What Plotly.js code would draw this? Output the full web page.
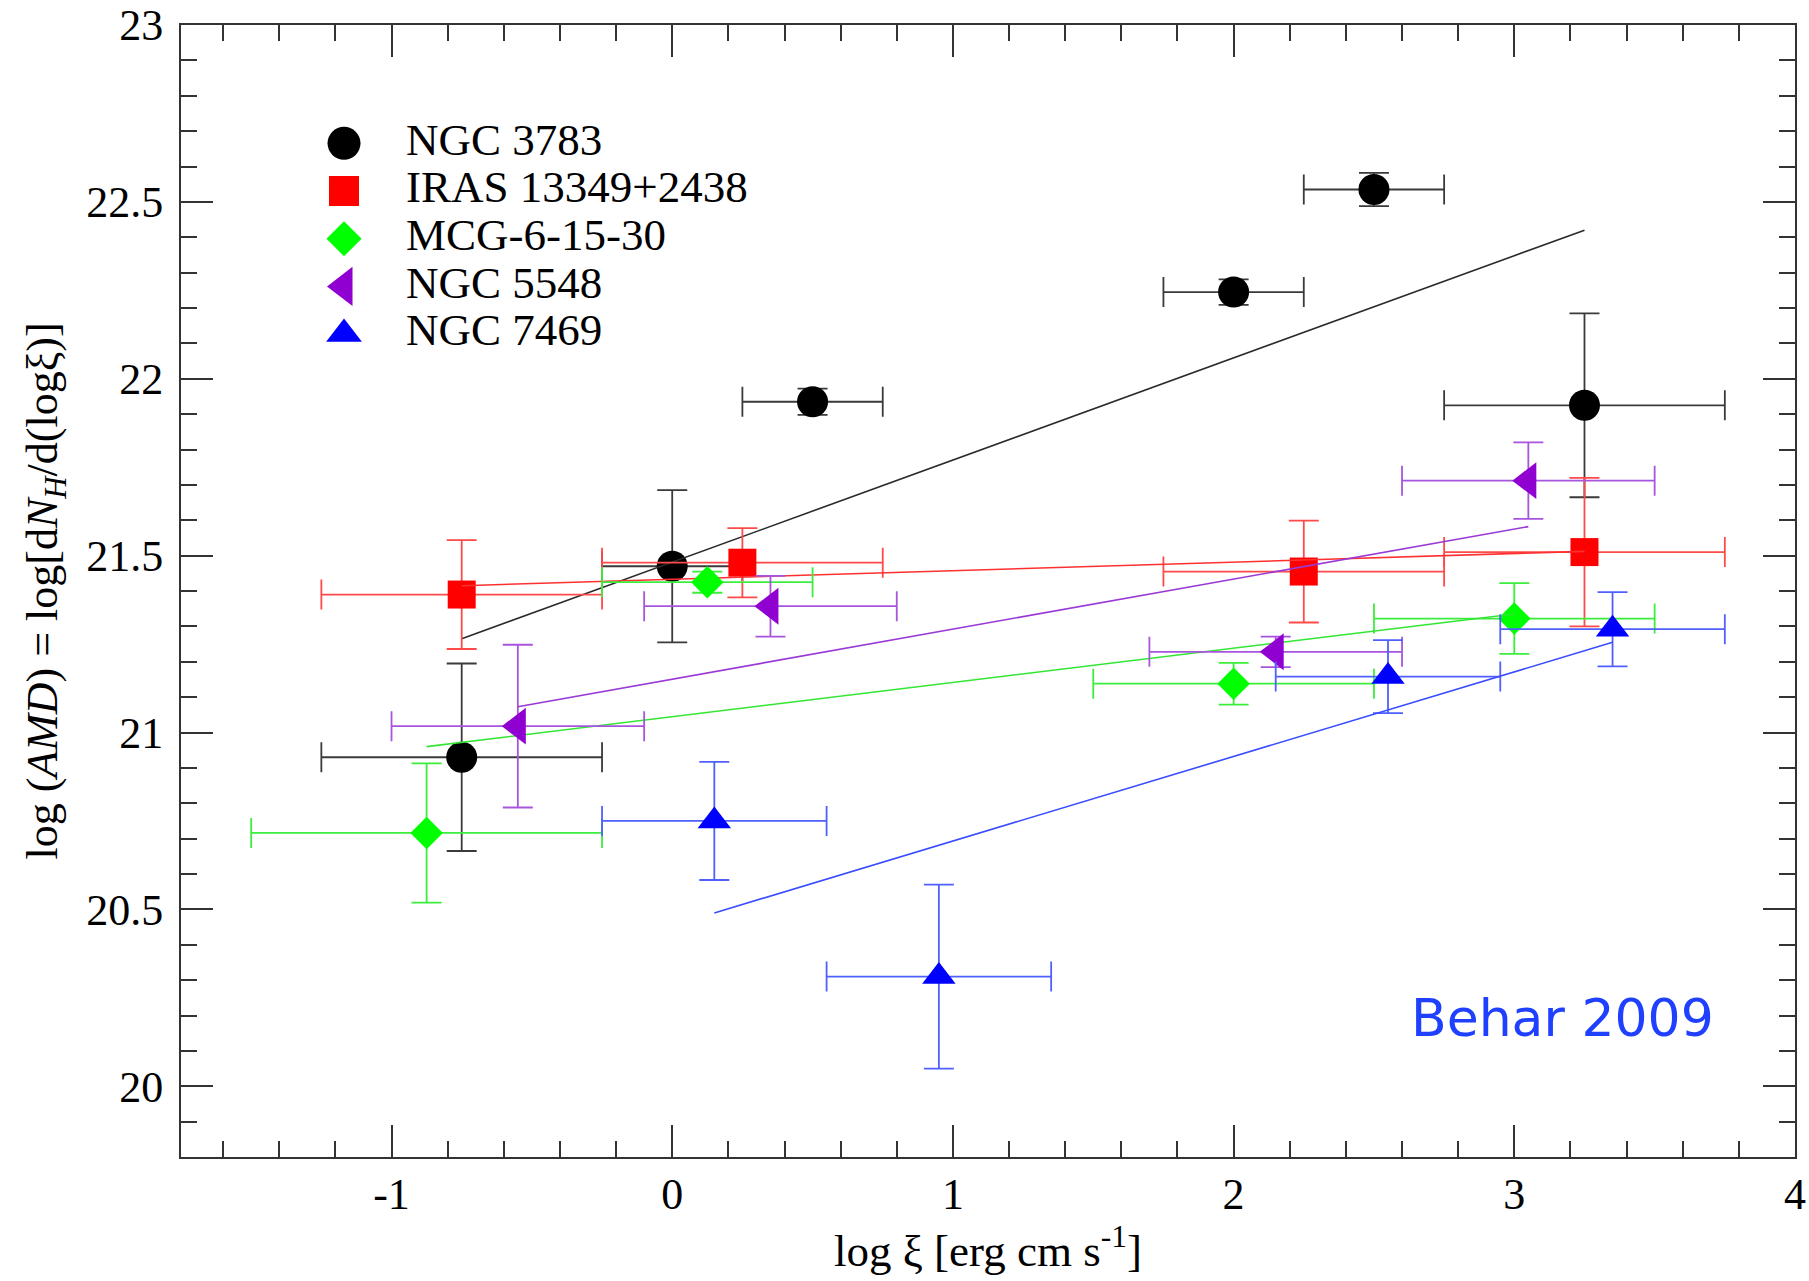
<!DOCTYPE html>
<html><head><meta charset="utf-8">
<script src="https://cdn.plot.ly/plotly-3.0.1.min.js"></script>
<style>html,body{margin:0;padding:0;background:#fff;} #chart{width:1809px;height:1281px;}</style>
</head><body><div id="chart"></div>
<script>
// ---- data ----
const seriesNames = ['NGC 3783', 'IRAS 13349+2438', 'MCG-6-15-30', 'NGC 5548', 'NGC 7469'];

const ngc3783X    = [-0.75, 0, 0.5, 2.0, 2.5, 3.25];
const ngc3783Y    = [20.93, 21.47, 21.935, 22.245, 22.535, 21.925];
const ngc3783XErr = [0.5, 0.25, 0.25, 0.25, 0.25, 0.5];
const ngc3783YErr = [0.265, 0.215, 0.037, 0.036, 0.047, 0.26];
const ngc3783FitX = [-0.75, 3.25];
const ngc3783FitY = [21.265, 22.42];

const irasX    = [-0.75, 0.25, 2.25, 3.25];
const irasY    = [21.39, 21.48, 21.455, 21.51];
const irasXErr = [0.5, 0.5, 0.5, 0.5];
const irasYErr = [0.154, 0.098, 0.144, 0.21];
const irasFitX = [-0.75, 3.25];
const irasFitY = [21.415, 21.512];

const mcgX    = [-0.875, 0.125, 2.0, 3.0];
const mcgY    = [20.716, 21.425, 21.138, 21.322];
const mcgXErr = [0.625, 0.375, 0.5, 0.5];
const mcgYErr = [0.197, 0.03, 0.059, 0.1];
const mcgFitX = [-0.875, 3.0];
const mcgFitY = [20.96, 21.335];

const ngc5548X    = [-0.55, 0.35, 2.15, 3.05];
const ngc5548Y    = [21.018, 21.357, 21.228, 21.712];
const ngc5548XErr = [0.45, 0.45, 0.45, 0.45];
const ngc5548YErr = [0.23, 0.086, 0.043, 0.108];
const ngc5548FitX = [-0.55, 3.05];
const ngc5548FitY = [21.073, 21.582];

const ngc7469X    = [0.15, 0.95, 2.55, 3.35];
const ngc7469Y    = [20.75, 20.31, 21.158, 21.292];
const ngc7469XErr = [0.4, 0.4, 0.4, 0.4];
const ngc7469YErr = [0.167, 0.26, 0.103, 0.105];
const ngc7469FitX = [0.15, 3.35];
const ngc7469FitY = [20.49, 21.255];

const xTickVals = [-1, 0, 1, 2, 3, 4];
const xTickText = ['-1', '0', '1', '2', '3', '4'];
const yTickVals = [20, 20.5, 21, 21.5, 22, 22.5, 23];
const yTickText = ['20', '20.5', '21', '21.5', '22', '22.5', '23'];

const legendMarkerCol = [0, 0, 0, 0, 0];
const legendTextCol = [1, 1, 1, 1, 1];

// ---- styles ----
const serif = 'Liberation Serif, Times New Roman, serif';
const styles = [
  {symbol: 'circle',        size: 31, color: '#000000', err: '#3a3a3a', fit: '#2a2a2a'},
  {symbol: 'square',        size: 28, color: '#ff0000', err: '#ff4a4a', fit: '#ff3030'},
  {symbol: 'diamond',       size: 25, color: '#00ff00', err: '#3cee3c', fit: '#33e633'},
  {symbol: 'triangle-left', size: 32, color: '#9000d0', err: '#a855dd', fit: '#9a3ad6'},
  {symbol: 'triangle-up',   size: 29, color: '#0000ff', err: '#5060ff', fit: '#3a4cff'}
];

const series = [
  [ngc3783X, ngc3783Y, ngc3783XErr, ngc3783YErr, ngc3783FitX, ngc3783FitY],
  [irasX, irasY, irasXErr, irasYErr, irasFitX, irasFitY],
  [mcgX, mcgY, mcgXErr, mcgYErr, mcgFitX, mcgFitY],
  [ngc5548X, ngc5548Y, ngc5548XErr, ngc5548YErr, ngc5548FitX, ngc5548FitY],
  [ngc7469X, ngc7469Y, ngc7469XErr, ngc7469YErr, ngc7469FitX, ngc7469FitY]
];

const traces = [];
series.forEach((s, i) => {
  const st = styles[i];
  traces.push({
    type: 'scatter', mode: 'markers', name: seriesNames[i],
    x: s[0], y: s[1], showlegend: false, cliponaxis: false,
    marker: {symbol: st.symbol, size: st.size, color: st.color, opacity: 1, line: {width: 0}},
    error_x: {type: 'data', array: s[2], color: st.err, thickness: 1.8, width: 15},
    error_y: {type: 'data', array: s[3], color: st.err, thickness: 1.8, width: 15}
  });
  traces.push({
    type: 'scatter', mode: 'lines', name: seriesNames[i] + ' fit',
    x: s[4], y: s[5], showlegend: false,
    line: {color: st.fit, width: 1.6}
  });
});

// custom legend drawn on an overlay axis pair
traces.push({
  type: 'scatter', mode: 'markers', xaxis: 'x2', yaxis: 'y2', showlegend: false,
  x: legendMarkerCol, y: seriesNames, hoverinfo: 'skip',
  marker: {symbol: styles.map(s => s.symbol), size: styles.map(s => s.size + 2), color: styles.map(s => s.color), opacity: 1, line: {width: 0}}
});
traces.push({
  type: 'scatter', mode: 'text', xaxis: 'x2', yaxis: 'y2', showlegend: false,
  x: legendTextCol, y: seriesNames, text: seriesNames, textposition: 'middle right',
  hoverinfo: 'skip', textfont: {family: serif, size: 45, color: '#000'}
});

const axisCommon = {
  ticks: 'inside', ticklen: 32, tickwidth: 2, tickcolor: '#333',
  showline: true, linecolor: '#333', linewidth: 2, mirror: 'allticks',
  showgrid: false, zeroline: false,
  tickfont: {family: serif, size: 44, color: '#000'}
};

const layout = {
  width: 1809, height: 1281,
  margin: {l: 181, r: 14, t: 25, b: 124},
  paper_bgcolor: '#ffffff', plot_bgcolor: '#ffffff',
  font: {family: serif, color: '#000'},
  showlegend: false,
  xaxis: Object.assign({}, axisCommon, {
    range: [-1.75, 4], tickmode: 'array', tickvals: xTickVals, ticktext: xTickText,
    ticklabelstandoff: -3,
    minor: {tickmode: 'linear', tick0: 0, dtick: 0.2, ticks: 'inside', ticklen: 16, tickwidth: 2, tickcolor: '#333'},
    title: {text: 'log ξ [erg cm s<sup>-1</sup>]', font: {family: serif, size: 45, color: '#000'}, standoff: 15}
  }),
  yaxis: Object.assign({}, axisCommon, {
    range: [19.8, 23], tickmode: 'array', tickvals: yTickVals, ticktext: yTickText,
    ticklabelstandoff: 7,
    minor: {tickmode: 'linear', tick0: 0, dtick: 0.1, ticks: 'inside', ticklen: 16, tickwidth: 2, tickcolor: '#333'},
    title: {text: 'log (<i>AMD</i>) = log[d<i>N</i><sub><i>H</i></sub>/d(logξ)]', font: {family: serif, size: 44, color: '#000'}, standoff: 15}
  }),
  xaxis2: {overlaying: 'x', range: [-2.629, 23.40], visible: false, fixedrange: true},
  yaxis2: {overlaying: 'y', type: 'category', categoryarray: seriesNames, range: [21.25, -2.48], visible: false, fixedrange: true},
  annotations: [{
    xref: 'paper', yref: 'paper', x: 0.856, y: 0.1228, xanchor: 'center', yanchor: 'middle',
    text: 'Behar 2009', showarrow: false,
    font: {family: 'DejaVu Sans, Verdana, sans-serif', size: 52, color: '#2040ff'}
  }]
};

Plotly.newPlot('chart', traces, layout, {displayModeBar: false, staticPlot: true});
</script>
</body></html>
